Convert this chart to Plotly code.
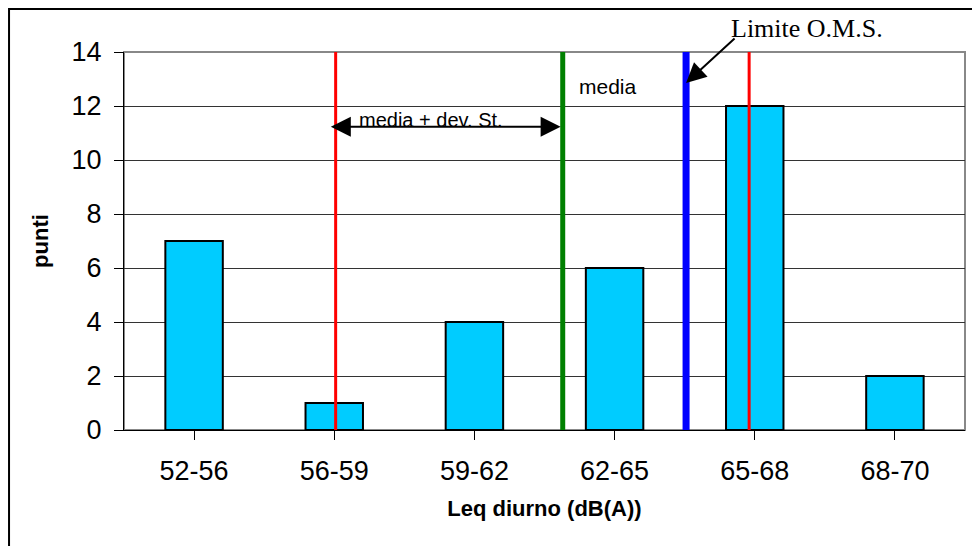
import plotly.graph_objects as go

# Histogram of daytime Leq classes
classes = ["52-56", "56-59", "59-62", "62-65", "65-68", "68-70"]
counts = [7, 1, 4, 6, 12, 2]

# Reference lines, in category-index units along the x axis
media_x = 2.63          # mean
dev_low_x = 1.01        # mean - std dev
dev_high_x = 3.96       # mean + std dev
oms_x = 3.51            # WHO limit
line_top = 14.1

# Double arrow showing the standard-deviation span
span_y = 11.23
span_from = 0.965
span_to = 2.615

y_ticks = [0, 2, 4, 6, 8, 10, 12, 14]

ARIAL = "Liberation Sans, Arial, sans-serif"
TIMES = "Liberation Serif, Times New Roman, serif"

fig = go.Figure()

fig.add_trace(go.Bar(
    x=list(range(len(classes))),
    y=counts,
    marker=dict(color="#00CCFF", line=dict(color="black", width=2)),
    width=0.41,
    showlegend=False,
    hoverinfo="skip",
))

def vline(xv, color, width, y0=0.0, y1=line_top):
    fig.add_trace(go.Scatter(
        x=[xv, xv], y=[y0, y1], mode="lines",
        line=dict(color=color, width=width),
        cliponaxis=False, showlegend=False, hoverinfo="skip",
    ))

vline(dev_low_x, "#FF0000", 3)
vline(media_x, "#008000", 5)
vline(oms_x, "#0000FF", 7, -0.06, 14.12)
vline(dev_high_x, "#FF0000", 3)

annotations = [
    # double-headed arrow
    dict(x=span_to, y=span_y, ax=span_from, ay=span_y, xref="x", yref="y",
         axref="x", ayref="y", text="", showarrow=True,
         arrowhead=2, startarrowhead=2, arrowside="end+start",
         arrowsize=2, startarrowsize=2, arrowwidth=2, arrowcolor="black"),
    dict(x=1.69, y=span_y, xref="x", yref="y", text="media + dev. St.",
         showarrow=False, xanchor="center", yanchor="bottom", yshift=-6,
         font=dict(family=ARIAL, size=20, color="black")),
    dict(x=2.95, y=12.71, xref="x", yref="y", text="media",
         showarrow=False, xanchor="center", yanchor="middle",
         font=dict(family=ARIAL, size=21, color="black")),
    # arrow to the WHO limit line
    dict(x=oms_x, y=12.85, xref="x", yref="y", text="", showarrow=True,
         ax=50, ay=-46, arrowhead=2, arrowsize=2, arrowwidth=2,
         arrowcolor="black"),
    dict(x=4.37, y=1.061, xref="x", yref="paper", text="Limite O.M.S.",
         showarrow=False, xanchor="center", yanchor="middle",
         font=dict(family=TIMES, size=26, color="black")),
]

shapes = [
    # plot area border
    dict(type="rect", xref="paper", yref="paper", x0=0, y0=0, x1=1, y1=1,
         line=dict(color="#888888", width=2), layer="below"),
    # outer chart frame
    dict(type="rect", xref="paper", yref="paper",
         x0=-0.1367, y0=-0.6, x1=1.2, y1=1.1138,
         line=dict(color="black", width=2), layer="below"),
]

fig.update_layout(
    width=972, height=546,
    margin=dict(l=124, r=7, t=52, b=116, pad=0),
    paper_bgcolor="white", plot_bgcolor="white",
    font=dict(family=ARIAL, color="black"),
    annotations=annotations,
    shapes=shapes,
    bargap=0.59,
)

fig.update_xaxes(
    range=[-0.5, 5.5],
    tickmode="array", tickvals=list(range(len(classes))), ticktext=classes,
    tickson="boundaries",
    ticks="outside", ticklen=9, tickwidth=1, tickcolor="black",
    showline=True, linecolor="black", linewidth=1,
    showgrid=False, zeroline=False,
    tickfont=dict(family=ARIAL, size=27, color="black"),
    ticklabelstandoff=8,
    title=dict(text="<b>Leq diurno (dB(A))</b>",
               font=dict(family=ARIAL, size=22, color="black"), standoff=15),
)

fig.update_yaxes(
    range=[0, 14],
    tickmode="array", tickvals=y_ticks,
    ticks="outside", ticklen=9, tickwidth=1, tickcolor="black",
    showline=True, linecolor="black", linewidth=1,
    showgrid=True, gridcolor="#333333", gridwidth=1,
    zeroline=False,
    tickfont=dict(family=ARIAL, size=27, color="black"),
    ticklabelstandoff=7,
    title=dict(text="<b>punti</b>",
               font=dict(family=ARIAL, size=22, color="black"), standoff=16),
)

fig.write_html("out.html")
